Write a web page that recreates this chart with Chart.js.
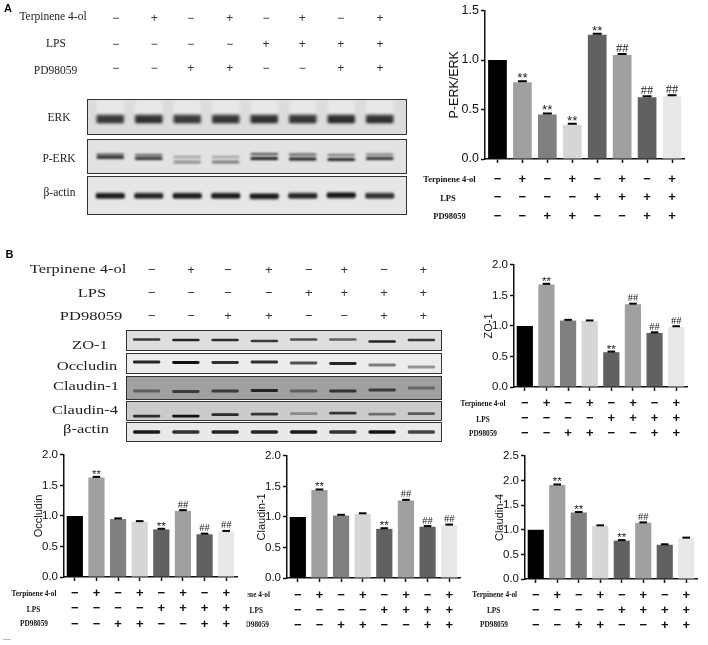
<!DOCTYPE html>
<html>
<head>
<meta charset="utf-8">
<script src="https://cdn.jsdelivr.net/npm/chart.js@4"></script>
<style>
  html, body { margin: 0; padding: 0; background: #fff; }
  #page { position: relative; width: 708px; height: 645px; overflow: hidden; filter: blur(0.35px); opacity: 0.999; }
  #page canvas { position: absolute; }
  .txt { position: absolute; white-space: nowrap; line-height: 1; color: #222; }
  .serif { font-family: "Liberation Serif", serif; }
  .row { font-family: "Liberation Serif", serif; font-weight: bold; color: #111; }
  .panel { position: absolute; box-sizing: border-box; border: 1px solid #333; overflow: hidden; }
</style>
</head>
<body>
<div id="page"></div>
<script>
// Treatment groups, shared by every panel
const terpinene = ['−', '+', '−', '+', '−', '+', '−', '+'];
const lps = ['−', '−', '−', '−', '+', '+', '+', '+'];
const pd98059 = ['−', '−', '+', '+', '−', '−', '+', '+'];

// Bar values
const perkValues = [1.0, 0.775, 0.45, 0.345, 1.255, 1.05, 0.625, 0.635];
const zo1Values = [1.0, 1.68, 1.09, 1.08, 0.57, 1.355, 0.885, 0.985];
const occludinValues = [1.0, 1.63, 0.95, 0.905, 0.78, 1.085, 0.70, 0.745];
const claudin1Values = [1.0, 1.44, 1.025, 1.05, 0.805, 1.27, 0.84, 0.865];
const claudin4Values = [1.0, 1.91, 1.35, 1.08, 0.78, 1.14, 0.695, 0.83];

// Significance marks above the bars
const perkMarks = ['', '**', '**', '**', '**', '##', '##', '##'];
const zo1Marks = ['', '**', '', '', '**', '##', '##', '##'];
const occludinMarks = ['', '**', '', '', '**', '##', '##', '##'];
const claudin1Marks = ['', '**', '', '', '**', '##', '##', '##'];
const claudin4Marks = ['', '**', '**', '', '**', '##', '', ''];

const barColors = ['#000000', '#a0a0a0', '#808080', '#d6d6d6', '#616161', '#a0a0a0', '#616161', '#e8e8e8'];
// the control bar is the reference level and has no error cap
const errorSizes = [null, 0.01, 0.01, 0.01, 0.01, 0.01, 0.01, 0.01];

// Blot bands: centre from the top of the panel, and how dark the band is
const erkInk = [0.8, 0.9, 0.8, 0.85, 0.9, 0.85, 0.95, 0.9];
const perkUpperAt = [14.5, 15, 17, 17, 14, 14.5, 15, 14.5];
const perkUpperInk = [0.7, 0.65, 0.35, 0.35, 0.75, 0.7, 0.55, 0.55];
const perkLowerAt = [17.5, 18.5, 22, 22, 18.5, 19, 19.5, 18.5];
const perkLowerInk = [0.85, 0.85, 0.4, 0.5, 0.95, 0.95, 0.9, 0.85];
const actinAInk = [0.95, 0.9, 0.95, 0.95, 0.95, 0.9, 0.98, 0.85];
const zo1At = [8.5, 9, 9, 10, 8.5, 8.5, 10.5, 9];
const zo1Ink = [0.8, 0.9, 0.85, 0.8, 0.7, 0.6, 0.9, 0.8];
const occludinAt = [8, 8.5, 8.5, 8, 9, 9.5, 11, 13];
const occludinInk = [0.9, 1, 0.85, 0.85, 0.7, 0.9, 0.5, 0.4];
const claudin1At = [14, 14.5, 14, 13.5, 14, 14, 13, 11];
const claudin1Ink = [0.45, 0.7, 0.7, 0.85, 0.45, 0.75, 0.7, 0.4];
const claudin4At = [14.5, 14.5, 13, 12.5, 12, 11.5, 12.5, 12];
const claudin4Ink = [0.85, 1, 0.85, 0.8, 0.35, 0.8, 0.5, 0.6];
const actinBInk = [0.95, 0.85, 0.9, 0.9, 0.95, 0.85, 0.98, 0.75];

const page = document.getElementById('page');
const groupLabels = terpinene.map((t, i) => [t, lps[i], pd98059[i]]);

function addText(text, x, y, css, cls, stretch) {
    const el = document.createElement('span');
    el.className = 'txt ' + (cls || '');
    el.textContent = text;
    el.style.cssText = `left:${x}px;top:${y}px;transform:translate(-50%,-50%) scaleX(${stretch || 1});${css}`;
    page.appendChild(el);
    return el;
}

function addCanvas(parent, left, top, width, height) {
    const canvas = document.createElement('canvas');
    canvas.style.left = left + 'px';
    canvas.style.top = top + 'px';
    canvas.style.width = width + 'px';
    canvas.style.height = height + 'px';
    canvas.width = width;
    canvas.height = height;
    parent.appendChild(canvas);
    return canvas;
}

// Draws ** and ## over the error caps
const marksPlugin = {
    id: 'marks',
    afterDatasetsDraw(chart, args, opts) {
        const ctx = chart.ctx;
        const meta = chart.getDatasetMeta(1);
        ctx.save();
        ctx.fillStyle = '#222';
        ctx.textAlign = 'center';
        opts.marks.forEach((mark, i) => {
            if (!mark) return;
            const star = mark === '**';
            ctx.font = star ? `${opts.size + 1}px "Liberation Sans"` : `${opts.size}px "Liberation Serif"`;
            ctx.fillText(mark, meta.data[i].x, meta.data[i].y + (star ? 1 : -2.5));
        });
        ctx.restore();
    }
};

function drawBarChart(cfg) {
    const axisW = 45, topPad = 8;
    const canvas = addCanvas(page, cfg.axisX - axisW, cfg.top - topPad, axisW + cfg.width, topPad + cfg.height + cfg.bottom);
    if (cfg.clip) canvas.style.clipPath = `inset(0 ${cfg.clip}px 0 0)`;
    new Chart(canvas, {
        data: {
            labels: groupLabels,
            datasets: [{
                type: 'bar',
                data: cfg.values,
                backgroundColor: barColors,
                barPercentage: 0.75,
                categoryPercentage: 1,
                order: 2
            }, {
                type: 'line',
                data: cfg.values.map((v, i) => errorSizes[i] === null ? null : v + errorSizes[i]),
                showLine: false,
                pointStyle: 'line',
                pointRadius: cfg.cap,
                pointBorderWidth: 2,
                pointBorderColor: '#000',
                order: 1
            }]
        },
        options: {
            responsive: false,
            animation: false,
            devicePixelRatio: 1,
            layout: { padding: { top: topPad, left: 0, right: 0, bottom: 0 } },
            plugins: {
                legend: { display: false },
                tooltip: { enabled: false },
                marks: { marks: cfg.marks, size: cfg.markSize }
            },
            scales: {
                x: {
                    offset: true,
                    afterFit: s => { s.height = cfg.bottom; },
                    border: { color: '#111', width: 1.5 },
                    grid: { offset: false, drawOnChartArea: false, tickLength: 4, tickWidth: 1.5, tickColor: '#111' },
                    ticks: {
                        autoSkip: false,
                        maxRotation: 0,
                        padding: cfg.signPad,
                        color: '#111',
                        font: { family: '"Liberation Sans"', size: 13, weight: 'bold', lineHeight: cfg.signLine + 'px' }
                    }
                },
                y: {
                    min: 0,
                    max: cfg.max,
                    afterFit: s => { s.width = axisW; },
                    border: { color: '#111', width: 1.5 },
                    grid: { drawOnChartArea: false, tickLength: 4, tickWidth: 1.5, tickColor: '#111' },
                    title: {
                        display: true,
                        text: cfg.title,
                        color: '#111',
                        padding: { top: cfg.titlePad, bottom: 0 },
                        font: { family: '"Liberation Sans"', size: cfg.titleSize }
                    },
                    ticks: {
                        stepSize: 0.5,
                        padding: 2,
                        color: '#111',
                        font: { family: '"Liberation Sans"', size: cfg.tickSize },
                        callback: v => v.toFixed(1)
                    }
                }
            }
        },
        plugins: [marksPlugin]
    });
}

function drawRowNames(size, rows) {
    rows.forEach(r => {
        const el = addText(r[0], r[1], r[2], `font-size:${size}px;`, 'row');
        if (r[3]) el.style.clipPath = r[3];
    });
}

// One blot: a grey panel with a small bar chart of floating bars as the bands
function drawBlot(cfg) {
    const panel = document.createElement('div');
    panel.className = 'panel';
    panel.style.cssText = `left:${cfg.left}px;top:${cfg.top}px;width:${cfg.width}px;height:${cfg.height}px;background:${cfg.bg};`;
    page.appendChild(panel);
    const canvas = addCanvas(panel, cfg.laneLeft - cfg.left - 1, 0, cfg.laneWidth, cfg.height - 2);
    canvas.style.filter = `blur(${cfg.blur}px)`;
    const datasets = cfg.bands.map(b => ({
        data: b.at.map(c => [c - b.thick / 2, c + b.thick / 2]),
        backgroundColor: b.ink.map(k => `rgba(${b.rgb || '15,15,15'},${k})`),
        borderSkipped: false,
        borderRadius: 2,
        barPercentage: cfg.bandWidth,
        categoryPercentage: 1
    }));
    new Chart(canvas, {
        type: 'bar',
        data: { labels: terpinene.map((t, i) => i), datasets },
        options: {
            responsive: false,
            animation: false,
            devicePixelRatio: 1,
            datasets: { bar: { grouped: false } },
            layout: { padding: 0 },
            plugins: { legend: { display: false }, tooltip: { enabled: false } },
            scales: {
                x: { display: false },
                y: { display: false, reverse: true, min: 0, max: cfg.height - 2 }
            }
        }
    });
}

const flat = v => terpinene.map(() => v);

// ---- Panel A, blots ----
addText('A', 8, 8, 'font:bold 11px "Liberation Sans";color:#000;');
[['Terpinene 4-ol', 53, 16.5, 11.5], ['LPS', 56, 44, 11.5], ['PD98059', 55.5, 71, 11.5],
 ['ERK', 59, 118, 11.5], ['P-ERK', 59, 159, 11.5], ['β-actin', 59.5, 192.5, 11.5]].forEach(r => {
    addText(r[0], r[1], r[2], `font-size:${r[3]}px;`, 'serif');
});
const signXA = [115.7, 154.3, 190.7, 229.7, 266, 302.3, 340.7, 380];
signXA.forEach((x, i) => {
    addText(terpinene[i], x, 17.5, 'font:12px "Liberation Sans";color:#333;');
    addText(lps[i], x, 43.5, 'font:12px "Liberation Sans";color:#333;');
    addText(pd98059[i], x, 68, 'font:12px "Liberation Sans";color:#333;');
});

drawBlot({ left: 87, top: 99, width: 320, height: 36, bg: '#dcdcdc', laneLeft: 91, laneWidth: 308, blur: 1.4, bandWidth: 0.72,
    bands: [
        { at: flat(7), thick: 13, ink: flat(0.5), rgb: '245,245,245' },
        { at: flat(19), thick: 9, ink: flat(0.45) },
        { at: flat(17), thick: 2.5, ink: erkInk },
        { at: flat(21), thick: 3.5, ink: erkInk }
    ] });
drawBlot({ left: 87, top: 139, width: 320, height: 35, bg: '#e2e2e2', laneLeft: 91, laneWidth: 308, blur: 0.8, bandWidth: 0.72,
    bands: [
        { at: perkUpperAt, thick: 2.2, ink: perkUpperInk },
        { at: perkLowerAt, thick: 3, ink: perkLowerInk }
    ] });
drawBlot({ left: 87, top: 176, width: 320, height: 38.5, bg: '#e6e6e6', laneLeft: 91, laneWidth: 308, blur: 1.1, bandWidth: 0.76,
    bands: [{ at: [18.5, 18.5, 18.5, 18.5, 19, 18.5, 18, 18.5], thick: 5.5, ink: actinAInk }] });

// ---- Panel A, chart ----
drawBarChart({ axisX: 485, top: 9, width: 206, height: 150, bottom: 68, max: 1.5, values: perkValues, marks: perkMarks,
    title: 'P-ERK/ERK', titleSize: 12.5, titlePad: 7, tickSize: 12.5, signPad: 6.75, signLine: 18.5, cap: 4.5, markSize: 12.5 });
drawRowNames(8.5, [['Terpinene 4-ol', 449.5, 179], ['LPS', 448, 198], ['PD98059', 449.5, 216]]);

// ---- Panel B, blots ----
addText('B', 9.5, 254, 'font:bold 11px "Liberation Sans";color:#000;');
[['Terpinene 4-ol', 78, 268], ['LPS', 92, 292], ['PD98059', 90.5, 315], ['ZO-1', 90, 344], ['Occludin', 86.7, 365],
 ['Claudin-1', 86, 385], ['Claudin-4', 85, 408.7], ['β-actin', 86, 428.3]].forEach(r => {
    addText(r[0], r[1], r[2], 'font-size:13px;', 'serif', 1.27);
});
const signXB = [151.7, 191, 228, 268.7, 308.7, 344.3, 384, 423.3];
signXB.forEach((x, i) => {
    addText(terpinene[i], x, 268.5, 'font:13px "Liberation Sans";color:#333;');
    addText(lps[i], x, 292, 'font:13px "Liberation Sans";color:#333;');
    addText(pd98059[i], x, 314.5, 'font:13px "Liberation Sans";color:#333;');
});

const blotB = { left: 126, width: 316, laneLeft: 127, laneWidth: 314, blur: 0.7, bandWidth: 0.7 };
drawBlot({ ...blotB, top: 330, height: 21, bg: '#dedede',
    bands: [{ at: zo1At, thick: 2.6, ink: zo1Ink }] });
drawBlot({ ...blotB, top: 353, height: 21, bg: '#ececec',
    bands: [{ at: occludinAt, thick: 2.8, ink: occludinInk }] });
drawBlot({ ...blotB, top: 376, height: 24, bg: '#a0a0a0',
    bands: [{ at: claudin1At, thick: 2.8, ink: claudin1Ink }] });
drawBlot({ ...blotB, top: 400.5, height: 20.5, bg: '#cbcbcb',
    bands: [{ at: claudin4At, thick: 2.8, ink: claudin4Ink }] });
drawBlot({ ...blotB, top: 422, height: 20, bg: '#e9e9e9',
    bands: [{ at: flat(9), thick: 3.4, ink: actinBInk }] });

// ---- Panel B, charts ----
drawBarChart({ axisX: 514, top: 264, width: 179, height: 123, bottom: 56, max: 2, values: zo1Values, marks: zo1Marks,
    title: 'ZO-1', titleSize: 11, titlePad: 13.4, tickSize: 11.5, signPad: 4.7, signLine: 15.2, cap: 3.8, markSize: 10.5 });
drawRowNames(7.3, [['Terpinene 4-ol', 483, 403.5], ['LPS', 483, 419.5], ['PD98059', 483, 434]]);

drawBarChart({ axisX: 64, top: 454, width: 179, height: 123, bottom: 56, max: 2, values: occludinValues, marks: occludinMarks,
    title: 'Occludin', titleSize: 11, titlePad: 13.4, tickSize: 11.5, signPad: 4.6, signLine: 15.4, cap: 3.8, markSize: 10.5 });
drawRowNames(7.3, [['Terpinene 4-ol', 34, 593.5], ['LPS', 33.5, 609.5], ['PD98059', 34, 624]]);

drawBarChart({ axisX: 287, top: 455, width: 179, height: 123, bottom: 56, max: 2, clip: 2.5, values: claudin1Values, marks: claudin1Marks,
    title: 'Claudin-1', titleSize: 11, titlePad: 13.4, tickSize: 11.5, signPad: 5.5, signLine: 15, cap: 3.8, markSize: 10.5 });
// these two names are cut off on the left in the source figure
drawRowNames(7.3, [['Terpinene 4-ol', 247.5, 595, 'inset(0 0 0 50%)'], ['LPS', 256.3, 610.5], ['PD98059', 255, 625, 'inset(0 0 0 20%)']]);

drawBarChart({ axisX: 525, top: 455, width: 178, height: 124, bottom: 56, max: 2.5, clip: 2.3, values: claudin4Values, marks: claudin4Marks,
    title: 'Claudin-4', titleSize: 11, titlePad: 13.4, tickSize: 11.5, signPad: 4.5, signLine: 15, cap: 3.8, markSize: 10.5 });
drawRowNames(7.3, [['Terpinene 4-ol', 494.7, 595], ['LPS', 493.7, 610.5], ['PD98059', 494, 625]]);

// stray dash at the bottom left of the source figure
const dash = document.createElement('div');
dash.style.cssText = 'position:absolute;left:3px;top:638.5px;width:8px;height:1px;background:#bbb;';
page.appendChild(dash);
</script>
</body>
</html>
